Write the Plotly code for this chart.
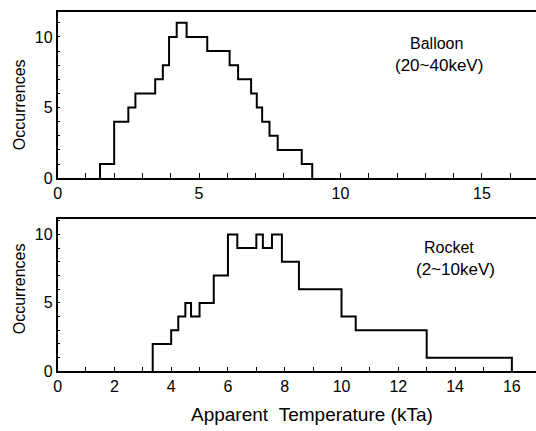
import plotly.graph_objects as go

# Balloon (20~40 keV) histogram: bin edges and occurrences
balloon_edges = [1.5, 2.0, 2.5, 2.75, 3.45, 3.72, 3.94, 4.21, 4.56, 5.29, 6.08,
                 6.38, 6.84, 7.04, 7.23, 7.49, 7.78, 8.63, 9.0]
balloon_counts = [1, 4, 5, 6, 7, 8, 10, 11, 10, 9, 8, 7, 6, 5, 4, 3, 2, 1]

# Rocket (2~10 keV) histogram
rocket_edges = [3.35, 4.0, 4.25, 4.5, 4.7, 5.0, 5.5, 6.0, 6.33, 7.0, 7.23, 7.55,
                7.9, 8.5, 10.0, 10.5, 13.0, 16.0]
rocket_counts = [2, 3, 4, 5, 4, 5, 7, 10, 9, 10, 9, 10, 8, 6, 4, 3, 1]

top_xticks = [0, 5, 10, 15]
bottom_xticks = [0, 2, 4, 6, 8, 10, 12, 14, 16]
y_ticks = [0, 5, 10]

W, H = 536, 431
FONT = "Liberation Sans, Arial, sans-serif"


def step_xy(edges, counts):
    xs = [edges[0]] + list(edges)
    ys = [0] + list(counts) + [0]
    return xs, ys


fig = go.Figure()
bx, by = step_xy(balloon_edges, balloon_counts)
rx, ry = step_xy(rocket_edges, rocket_counts)
fig.add_trace(go.Scatter(x=bx, y=by, mode="lines", line=dict(shape="hv", color="black", width=2),
                         xaxis="x", yaxis="y", showlegend=False, hoverinfo="skip"))
fig.add_trace(go.Scatter(x=rx, y=ry, mode="lines", line=dict(shape="hv", color="black", width=2),
                         xaxis="x2", yaxis="y2", showlegend=False, hoverinfo="skip"))

xdom = [54 / W, 1.0]
axis_common = dict(showgrid=False, zeroline=False, showline=True, linecolor="black", linewidth=1.5,
                   ticks="inside", tickcolor="black", tickwidth=1,
                   tickfont=dict(family=FONT, size=16, color="black"))

fig.update_layout(
    width=W, height=H,
    margin=dict(l=0, r=0, t=0, b=0),
    paper_bgcolor="white", plot_bgcolor="white",
    xaxis=dict(domain=xdom, range=[0, 16.91], anchor="y", tickmode="array", tickvals=top_xticks,
               ticklen=5, mirror=True,
               minor=dict(tickmode="linear", tick0=0, dtick=1, ticks="inside", ticklen=5, tickcolor="black"),
               **axis_common),
    yaxis=dict(domain=[1 - 182 / H, 1 - 12 / H], range=[0, 11.78], anchor="x", tickmode="array",
               tickvals=y_ticks, ticklen=3,
               minor=dict(tickmode="linear", tick0=0, dtick=1, ticks="inside", ticklen=3, tickcolor="black"),
               **axis_common),
    xaxis2=dict(domain=xdom, range=[0, 16.85], anchor="y2", tickmode="array", tickvals=bottom_xticks,
                ticklen=5, mirror=True,
                minor=dict(tickmode="linear", tick0=0, dtick=1, ticks="inside", ticklen=5, tickcolor="black"),
                **axis_common),
    yaxis2=dict(domain=[1 - 379.3 / H, 1 - 224 / H], range=[0, 11.1], anchor="x2", tickmode="array",
                tickvals=y_ticks, ticklen=3,
                minor=dict(tickmode="linear", tick0=0, dtick=1, ticks="inside", ticklen=3, tickcolor="black"),
                **axis_common),
)


def ann(text, px, py, size, angle=0, yanchor="middle"):
    fig.add_annotation(text=text, x=px / W, y=1 - py / H, xref="paper", yref="paper",
                       xanchor="center", yanchor=yanchor, showarrow=False, textangle=angle,
                       font=dict(family=FONT, size=size, color="black"))


ann("Occurrences", 15.5, 107, 16, -90)
ann("Occurrences", 15.5, 295, 16, -90)
ann("Apparent\u00a0\u00a0Temperature (kTa)", 310, 423, 19)
ann("Balloon", 436, 55, 16, yanchor="bottom")
ann("(20~40keV)", 438, 55, 17, yanchor="top")
ann("Rocket", 448, 263, 16, yanchor="bottom")
ann("(2~10keV)", 455, 263, 17, yanchor="top")

fig.write_html("out.html")
